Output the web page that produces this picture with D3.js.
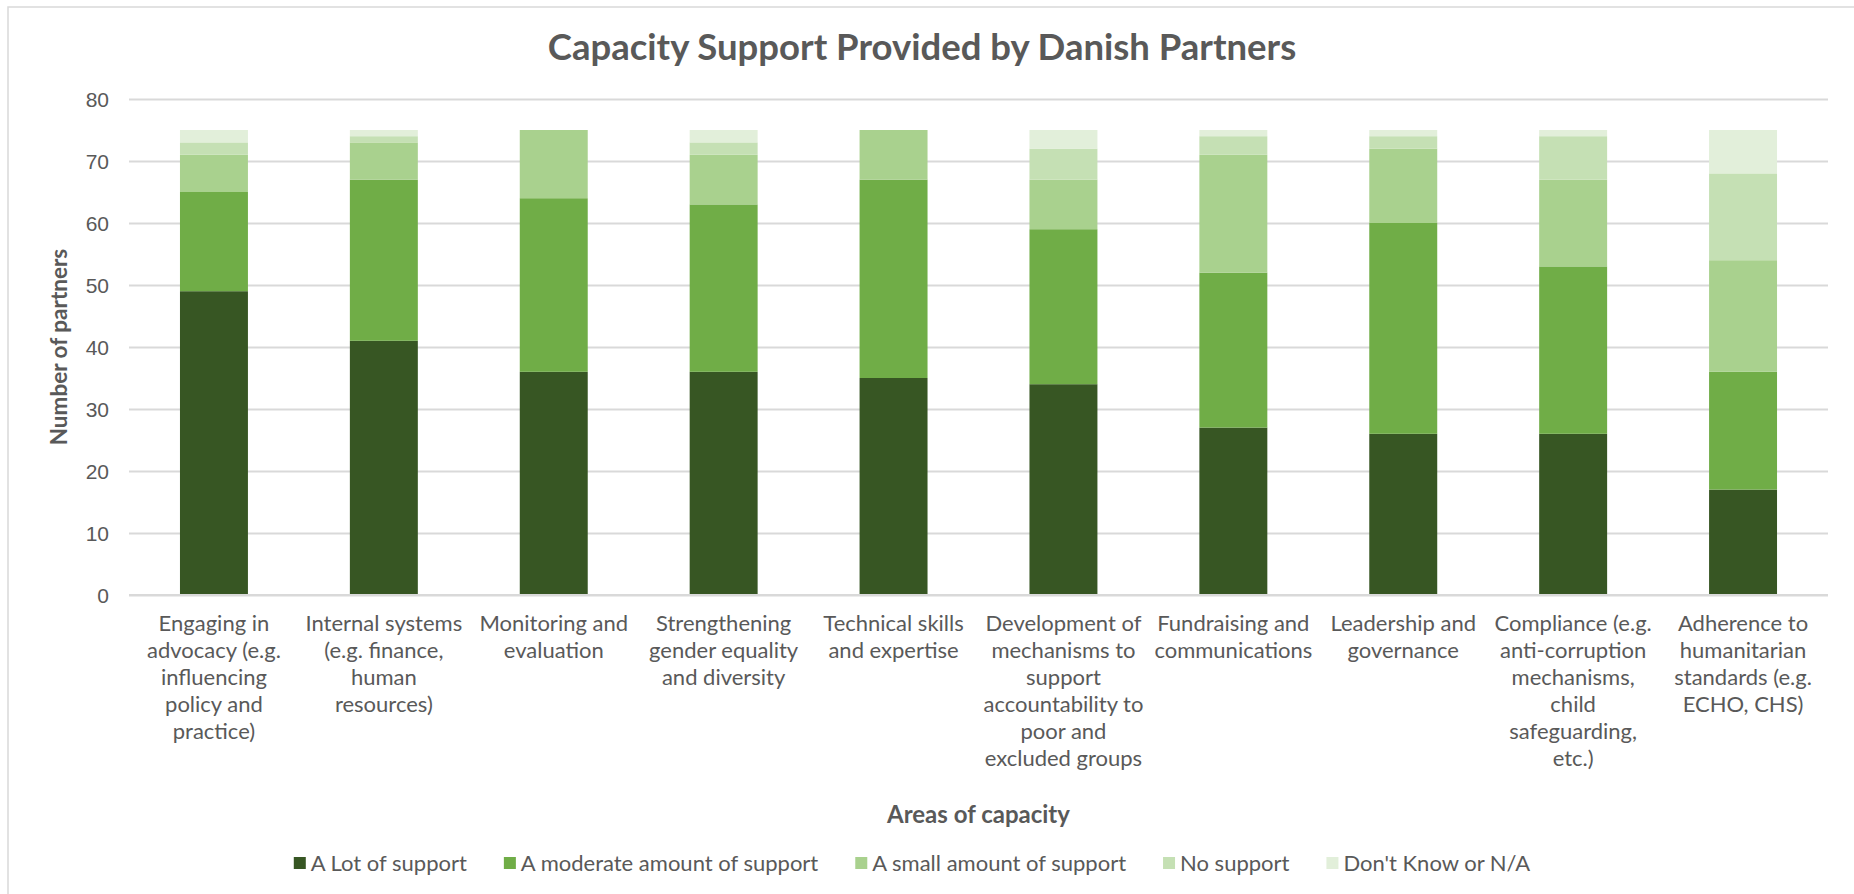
<!DOCTYPE html>
<html>
<head>
<meta charset="utf-8">
<script src="https://cdn.jsdelivr.net/npm/d3@7"></script>
<style>
  html, body { margin: 0; padding: 0; background: #fff; }
  svg { display: block; font-family: Lato, "Open Sans", sans-serif; }
</style>
</head>
<body>
<svg id="chart" width="1854" height="894"></svg>
<script>
// Capacity areas, one array of wrapped lines per category
const categoryLines = [
  ["Engaging in", "advocacy (e.g.", "influencing", "policy and", "practice)"],
  ["Internal systems", "(e.g. finance,", "human", "resources)"],
  ["Monitoring and", "evaluation"],
  ["Strengthening", "gender equality", "and diversity"],
  ["Technical skills", "and expertise"],
  ["Development of", "mechanisms to", "support", "accountability to", "poor and", "excluded groups"],
  ["Fundraising and", "communications"],
  ["Leadership and", "governance"],
  ["Compliance (e.g.", "anti-corruption", "mechanisms,", "child", "safeguarding,", "etc.)"],
  ["Adherence to", "humanitarian", "standards (e.g.", "ECHO, CHS)"]
];
const categories = categoryLines.map(l => l.join(" "));

const seriesNames = ["A Lot of support", "A moderate amount of support", "A small amount of support", "No support", "Don't Know or N/A"];
const seriesColors = ["#375623", "#70ad47", "#a9d18e", "#c5e0b4", "#e2efda"];

// Number of partners per response level
const aLot      = [49, 41, 36, 36, 35, 34, 27, 26, 26, 17];
const moderate  = [16, 26, 28, 27, 32, 25, 25, 34, 27, 19];
const small     = [ 6,  6, 11,  8,  8,  8, 19, 12, 14, 18];
const noSupport = [ 2,  1,  0,  2,  0,  5,  3,  2,  7, 14];
const dontKnow  = [ 2,  1,  0,  2,  0,  3,  1,  1,  1,  7];

const yTicks = [0, 10, 20, 30, 40, 50, 60, 70, 80];

const series = [aLot, moderate, small, noSupport, dontKnow];
const rows = categories.map((c, i) => {
  const r = { category: c };
  seriesNames.forEach((s, k) => { r[s] = series[k][i]; });
  return r;
});

const svg = d3.select("#chart");
const textColor = "#595959";
const gridColor = "#d9d9d9";

// outer chart frame
svg.append("rect")
  .attr("x", 8).attr("y", 7)
  .attr("width", 1860).attr("height", 900)
  .attr("fill", "#fff")
  .attr("stroke", gridColor).attr("stroke-width", 1.5);

const plot = { left: 129, right: 1828, top: 99, bottom: 595 };

const x = d3.scaleBand()
  .domain(categories)
  .range([plot.left, plot.right])
  .paddingInner(0.6)
  .paddingOuter(0.3);

const y = d3.scaleLinear()
  .domain([0, 80])
  .range([plot.bottom, plot.top]);

// gridlines and y tick labels
const yAxis = d3.axisLeft(y)
  .tickValues(yTicks)
  .tickSize(-(plot.right - plot.left))
  .tickPadding(20)
  .tickFormat(d3.format("d"));

const gy = svg.append("g")
  .attr("transform", `translate(${plot.left},0)`)
  .call(yAxis);
gy.select(".domain").remove();
gy.selectAll(".tick line").attr("stroke", gridColor).attr("stroke-width", 2);
gy.selectAll(".tick text")
  .attr("fill", textColor)
  .style("font-size", "21px")
  .attr("dy", "0.35em");

// stacked bars
const stack = d3.stack().keys(seriesNames);
const layers = stack(rows);

svg.append("g")
  .selectAll("g")
  .data(layers)
  .join("g")
  .attr("fill", (d, i) => seriesColors[i])
  .selectAll("rect")
  .data(d => d)
  .join("rect")
  .attr("x", d => x(d.data.category))
  .attr("width", x.bandwidth())
  .attr("y", d => y(d[1]))
  .attr("height", d => y(d[0]) - y(d[1]));

// zero baseline drawn over the bars
svg.append("line")
  .attr("x1", plot.left).attr("x2", plot.right)
  .attr("y1", y(0)).attr("y2", y(0))
  .attr("stroke", gridColor).attr("stroke-width", 2);

// x category labels
const xLabels = svg.append("g");
categoryLines.forEach((lines, i) => {
  const cx = x(categories[i]) + x.bandwidth() / 2;
  const t = xLabels.append("text")
    .attr("x", cx)
    .attr("y", 631)
    .attr("text-anchor", "middle")
    .attr("fill", textColor)
    .style("font-size", "22px");
  lines.forEach((ln, j) => {
    t.append("tspan")
      .attr("x", cx)
      .attr("dy", j === 0 ? 0 : 27)
      .text(ln);
  });
});

// titles
svg.append("text")
  .attr("x", 922).attr("y", 60)
  .attr("text-anchor", "middle")
  .attr("fill", textColor)
  .style("font-size", "36.5px")
  .style("font-weight", "bold")
  .text("Capacity Support Provided by Danish Partners");

svg.append("text")
  .attr("transform", `translate(67,347) rotate(-90)`)
  .attr("text-anchor", "middle")
  .attr("fill", textColor)
  .style("font-size", "22.5px")
  .style("font-weight", "bold")
  .text("Number of partners");

svg.append("text")
  .attr("x", (plot.left + plot.right) / 2).attr("y", 823)
  .attr("text-anchor", "middle")
  .attr("fill", textColor)
  .style("font-size", "24px")
  .style("font-weight", "bold")
  .text("Areas of capacity");

// legend
const legend = svg.append("g");
const swatch = 12, swatchGap = 5, itemGap = 37;
const items = seriesNames.map((name, i) => {
  const g = legend.append("g");
  g.append("rect")
    .attr("width", swatch).attr("height", swatch)
    .attr("y", -swatch / 2)
    .attr("fill", seriesColors[i]);
  const t = g.append("text")
    .attr("x", swatch + swatchGap)
    .attr("dy", "0.35em")
    .attr("fill", textColor)
    .style("font-size", "22px")
    .text(name);
  return { g, w: swatch + swatchGap + t.node().getComputedTextLength() };
});
const total = d3.sum(items, d => d.w) + itemGap * (items.length - 1);
let lx = 912 - total / 2;
items.forEach(it => {
  it.g.attr("transform", `translate(${lx},863)`);
  lx += it.w + itemGap;
});
</script>
</body>
</html>
